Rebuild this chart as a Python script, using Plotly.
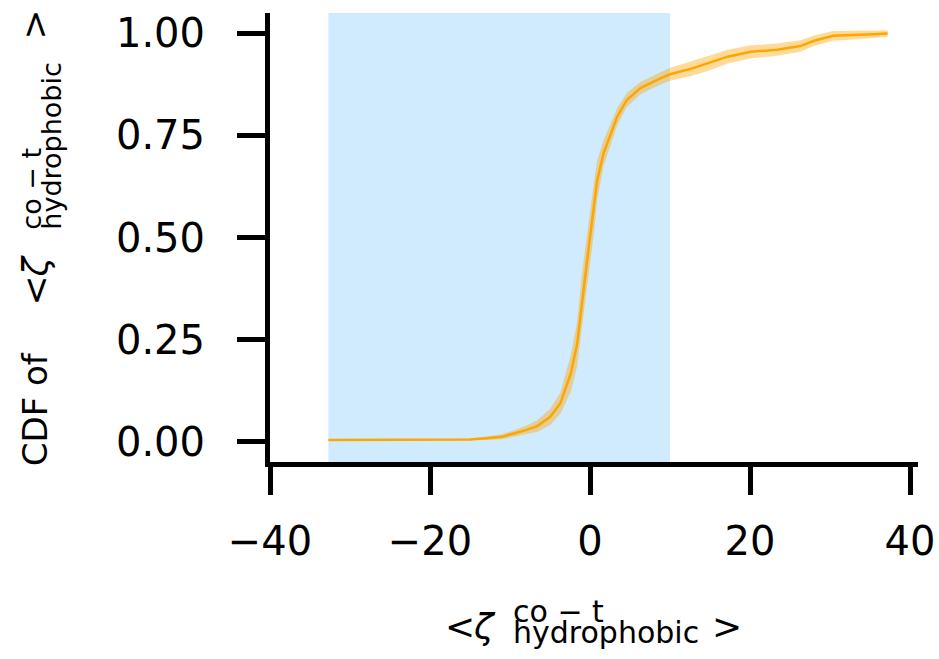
import plotly.graph_objects as go

# ---- data ----
zeta_x = [-32.7, -25.0, -20.0, -15.0, -13.0, -11.0, -9.5, -8.0, -6.6, -5.0, -3.7, -2.4,
          -1.6, -1.0, -0.5, 0.0, 0.5, 0.9, 1.7, 2.6, 3.4, 4.6, 6.3, 8.8, 10.0, 12.9,
          15.0, 17.2, 20.1, 23.4, 26.3, 28.0, 30.4, 33.8, 35.4, 37.2]
cdf = [0.004, 0.004, 0.004, 0.005, 0.008, 0.012, 0.020, 0.028, 0.038, 0.060, 0.094, 0.167,
       0.240, 0.347, 0.420, 0.500, 0.575, 0.640, 0.707, 0.755, 0.796, 0.837, 0.866, 0.890,
       0.900, 0.915, 0.928, 0.943, 0.955, 0.960, 0.969, 0.982, 0.994, 0.996, 0.998, 1.000]
cdf_err = [0.001, 0.001, 0.001, 0.002, 0.004, 0.006, 0.008, 0.011, 0.014, 0.020, 0.026, 0.045,
           0.055, 0.065, 0.066, 0.065, 0.062, 0.048, 0.032, 0.025, 0.021, 0.017, 0.015, 0.015,
           0.016, 0.018, 0.018, 0.017, 0.016, 0.015, 0.014, 0.013, 0.012, 0.010, 0.009, 0.008]
span_start, span_end = -32.7, 10.0
x_ticks = [-40, -20, 0, 20, 40]
y_ticks = [0.0, 0.25, 0.5, 0.75, 1.0]

lower = [c - e for c, e in zip(cdf, cdf_err)]
upper = [c + e for c, e in zip(cdf, cdf_err)]

ORANGE = "#FFA500"
FONT = "DejaVu Sans"

fig = go.Figure()
fig.add_trace(go.Scatter(x=zeta_x, y=lower, mode="lines", line=dict(width=0, color=ORANGE),
                         showlegend=False, hoverinfo="skip"))
fig.add_trace(go.Scatter(x=zeta_x, y=upper, mode="lines", line=dict(width=0, color=ORANGE),
                         fill="tonexty", fillcolor="rgba(255,165,0,0.4)",
                         showlegend=False, hoverinfo="skip"))
fig.add_trace(go.Scatter(x=zeta_x, y=cdf, mode="lines", line=dict(width=2.5, color=ORANGE),
                         showlegend=False))

fig.add_shape(type="rect", xref="x", yref="paper", x0=span_start, x1=span_end, y0=0, y1=1,
              fillcolor="rgba(135,206,250,0.4)", line=dict(width=0), layer="below")

# plot area in pixels
L, R, T, B = 270, 918, 13, 462
W, H = 939, 659
ASC, DESC = 0.928, 0.236   # DejaVu Sans font-box metrics
MID = (ASC - DESC) / 2


def pp(px, py):
    return (px - L) / (R - L), (B - py) / (B - T)


def ann(text, px, py, size, angle=0, xanchor="center", yanchor="middle", align="center",
        base=None):
    x, y = pp(px, py)
    fig.add_annotation(text=text, x=x, y=y, xref="paper", yref="paper", showarrow=False,
                       xanchor=xanchor, yanchor=yanchor, textangle=angle, align=align,
                       borderpad=0,
                       font=dict(family=FONT, size=base or size, color="black"))


MATH, LAB, SCR = 36, 34, 30
# ---- x-axis title:  < ζ^{co-t}_{hydrophobic} >  (baselines in px) ----
xb_main, xb_sup, xb_sub = 639, 622, 643
ann("&lt;", 460, xb_main - MID * MATH, MATH)
ann("<i>ζ</i>", 484, xb_main - MID * MATH, MATH)
blk_c = ((xb_sup - ASC * SCR) + (xb_sub + DESC * SCR)) / 2
ann(f"<span style='font-size:{SCR}px'>co − t</span><br>"
    f"<span style='font-size:{SCR}px'>hydrophobic</span>",
    512, blk_c, SCR, xanchor="left", align="left", base=(xb_sub - xb_sup) / 1.3)
ann("&gt;", 727, xb_main - MID * MATH, MATH)

# ---- y-axis title (rotated): baselines are x positions in px ----
yb_main, yb_sup, yb_sub = 47, 41, 61
YSCR = 27
ann("CDF of", yb_main - MID * LAB, 409, LAB, -90)
ann("&lt;", yb_main - MID * MATH, 291, MATH, -90)
ann("<i>ζ</i>", yb_main - MID * MATH, 266, MATH, -90)
yblk_c = ((yb_sup - ASC * YSCR) + (yb_sub + DESC * YSCR)) / 2
ann(f"<span style='font-size:{YSCR}px'>co − t</span><br>"
    f"<span style='font-size:{YSCR}px'>hydrophobic</span>",
    yblk_c, 146, YSCR, -90, align="left", base=(yb_sub - yb_sup) / 1.3)
ann("&gt;", yb_main - MID * MATH, 25, MATH, -90)

axis_common = dict(showgrid=False, zeroline=False, showline=True, linewidth=5, linecolor="black",
                   ticks="outside", ticklen=28, tickwidth=5, tickcolor="black",
                   tickfont=dict(family=FONT, size=40, color="black"), mirror=False,
                   automargin=False)

fig.update_layout(
    width=W, height=H,
    margin=dict(l=L, r=W - R, t=T, b=H - B),
    plot_bgcolor="white", paper_bgcolor="white",
    xaxis=dict(range=[-40, 41], tickvals=x_ticks, ticklabelstandoff=12, **axis_common),
    yaxis=dict(range=[-0.05, 1.05], tickvals=y_ticks, tickformat=".2f", ticklabelstandoff=24,
               **axis_common),
)

fig.write_html("out.html", config={"displayModeBar": False},
               post_script="document.body.style.margin='0';document.body.style.overflow='hidden';")
